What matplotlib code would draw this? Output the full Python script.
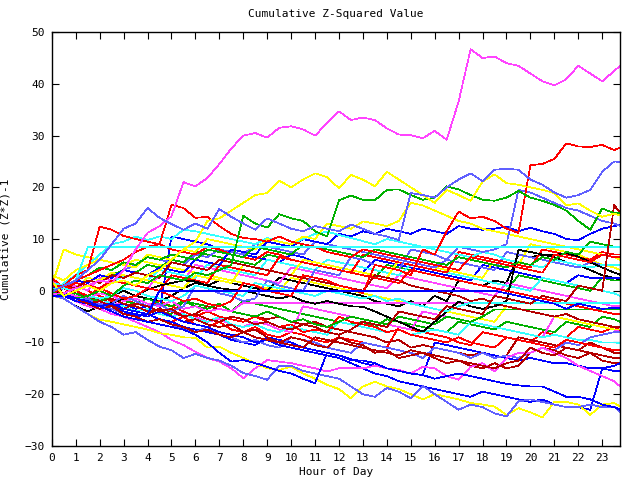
import numpy as np
import matplotlib

matplotlib.use("Agg")
import matplotlib.pyplot as plt

plt.rcParams["font.family"] = ["DejaVu Sans Mono"]

# readings every half hour, last one at 23:45
hours = np.append(np.arange(0, 24, 0.5), 23.75)

# --- series (cumulative z*z - 1) ---------------------------------------------
m1 = [-0.6, -0.5, 0.5, 1, 2, 1.5, 4, 8,
      11.2, 12.5, 14.4, 21, 20.2, 21.8, 24.5, 27.5,
      30, 30.5, 29.6, 31.5, 31.8, 31.2, 30, 32.4,
      34.7, 33, 33.5, 33, 31.4, 30.2, 30.1, 29.5,
      30.9, 29.2, 36.6, 46.7, 45, 45.3, 44, 43.5,
      42, 40.5, 39.7, 40.9, 43.5, 42, 40.5, 42.5,
      43.5]
r1 = [0.8, 1, 0, -1, 0.5, -0.5, -1.5, -1,
      0.5, 0, -1, -2, -1.5, -2.5, -3, -2,
      1.5, 1, 0, -0.5, -1, 3, 2.5, 2,
      1, 0.5, -0.5, 5, 4.5, 4, 3, 8,
      7, 11.5, 15.3, 14, 14.3, 13.5, 12, 11.2,
      24.3, 24.5, 25.5, 28.5, 27.9, 27.8, 28.2, 27.2,
      27.7]
p1 = [-0.2, 1, 2, 4, 6, 9, 12, 13,
      16, 14.1, 12.9, 11.8, 13, 12, 15.8, 14.3,
      13, 11.8, 14, 13, 12, 11.5, 12.5, 12,
      11.5, 12.8, 12, 11, 10.5, 9.8, 18.9, 18.5,
      18, 20, 21.5, 22.7, 21.2, 23.4, 23.6, 23.4,
      21.5, 20.5, 19, 18, 18.5, 19.5, 23, 25,
      24.9]
p2 = [-0.6, -1, -2, -1.5, -3, -2.5, -1, -2,
      -3, -2.5, -4, -3, 1, 0.5, -0.5, -1,
      -2, -1.5, 2, 1, 0.5, 0, 4, 3.5,
      3, 6.5, 6, 5, 4.5, 4, 8, 7.5,
      7, 6, 8.5, 8, 7.5, 8, 9, 19.5,
      19, 18, 17, 16, 15.5, 14.5, 13.5, 13,
      12.5]
y1 = [1.8, -1, 0, 1, 0, 1.5, 2, 1,
      3, 4, 6, 8, 9.5, 13.5, 14, 15.5,
      17, 18.5, 18.9, 21.3, 20, 21.5, 22.7, 22,
      19.8, 22.4, 21.5, 20.2, 23, 21.5, 20, 18.5,
      17, 19.5, 18.5, 17.4, 21.1, 22.5, 20.8, 20.5,
      20, 19.5, 18.9, 16.5, 16.9, 15.5, 14.3, 14.9,
      14.6]
g1 = [-0.3, -1, -1.5, -1, 0, -1, 1, 2,
      1.5, 3, 2.5, 2, 3.5, 3, 4, 5,
      14.5, 13, 12.2, 14.8, 14, 13.5, 11.5, 10.5,
      17.5, 18.4, 17.6, 17.5, 19.5, 19.6, 18.5, 17.6,
      18, 20.2, 19.6, 18.5, 17.6, 17.4, 18, 19.3,
      18, 17.4, 16.6, 15.5, 13.5, 11.8, 15.9, 15,
      15]
p3 = [-0.9, -1.5, -3, -4.5, -6, -7, -8.5, -8,
      -9.5, -10.8, -11.5, -13, -12.2, -13, -13.5, -14.5,
      -15.9, -16.5, -17.2, -14.5, -14.5, -15.5, -16, -16.5,
      -17, -18.5, -20, -20.5, -18.8, -19.5, -20.8, -18.4,
      -20, -21.5, -23, -22, -22.5, -23.7, -24.3, -21.4,
      -21, -21.5, -22, -22.5, -22.5, -22, -22.5, -22.4,
      -23.5]
y3 = [-1, -1.5, -3, -4.5, -5.6, -6, -6.5, -7,
      -7.5, -8.2, -8.5, -9, -9.1, -11, -10.8, -12,
      -13, -14, -15, -15.3, -14.7, -16, -17, -18.2,
      -19, -20.8, -18.5, -17.6, -18.5, -19, -20, -21,
      -20, -20.5, -21, -21.7, -22, -22.4, -24, -22.7,
      -23.5, -24.5, -21.5, -21.5, -22, -24, -22, -21.7,
      -22.4]
m2 = [-0.9, -1, -2, -3, -3.5, -4.5, -5, -6,
      -7, -8, -9.5, -10.5, -11.8, -13, -13.7, -15,
      -16.9, -15, -13.4, -13.7, -14, -14.5, -15, -15.6,
      -15, -15, -15, -14.5, -15, -15.3, -16, -14.7,
      -15, -16.5, -17.2, -14.7, -14, -15.6, -13, -12,
      -12, -11, -12, -13, -14.5, -15.5, -16.5, -17.5,
      -18.5]
b1 = [-0.7, -1, -2, -2.5, -3, -4, -5, -5.5,
      -6, -6.5, -7, -7.5, -8.5, -10, -12, -13.7,
      -13.4, -14, -14.7, -15.5, -16, -17, -17.9, -12,
      -12.5, -13.4, -13.5, -14, -15, -15.5, -16, -16.3,
      -17, -16.5, -16, -16.5, -17, -17.5, -18, -18.3,
      -18.5, -18.5, -19.5, -20.5, -20.5, -21, -22, -22.5,
      -23]
b2 = [-1, -0.5, -1.5, -2.5, -2, -3, -4, -4.5,
      -5, -4, -5, -6, -6.5, -7, -8, -8.5,
      -9, -10, -9.5, -10.5, -11, -11.5, -12, -12.5,
      -13, -14, -15, -16, -16.5, -17.5, -18, -18.5,
      -19, -19.5, -20, -20.5, -19.5, -20, -20.5, -21,
      -21.5, -21, -22, -22.5, -22.5, -23, -15, -14.5,
      -14]
b3 = [-0.9, -1, -1.5, -2, -3, -3.5, -4, -5,
      -4.5, -5.5, -6, -7, -7.5, -8, -8.5, -9.5,
      -10, -10.5, -9, -9.5, -10, -11, -11.5, -12,
      -12.5, -13.2, -14, -14.5, -15, -15.5, -16, -16.3,
      -10, -10.5, -11, -11.5, -12, -12.5, -13, -13.5,
      -13, -13.5, -14, -14, -14.5, -15, -15, -15.5,
      -15.6]
b4 = [0.6, 1, 2, 1.5, 3, 2.5, 4, 3.5,
      3, 4.5, 4, 3.5, 6, 5.5, 5, 8,
      7.5, 7, 9.5, 9, 8.5, 10, 9.5, 9,
      11, 10.5, 11.5, 11, 12, 11.5, 11, 12,
      11.5, 11, 12.5, 12, 11.8, 12, 12.4, 11.5,
      12.2, 11.5, 11, 10, 9.8, 11, 12, 12.5,
      12.7]
b5 = [-0.6, -1, -0.5, -1.5, -2, -3, -2.5, -3.5,
      -3, -4, 10.5, 10, 9.5, 9, 8, 7.5,
      7, 6.5, 6, 5.5, 7, 6.5, 5.5, 5,
      4.5, 4, 3.5, 6, 5.5, 5, 4.5, 4,
      3.5, 3, 2.5, 2, 5, 4.5, 4, 3.5,
      3, 2.5, 2, 1.5, 3, 2.5, 2.5, 2.5,
      2.5]
b_flat = [-1, -1, -1.5, -2, -3, -2.5, -3.5, -4,
          -4.5, 0, 0, 0, 0, 0, 0, 0,
          0, 0, 0, 0, 0, 0, 0, 0,
          0, 0, 0, 0, 0, 0, 0, 0,
          0, 0, 0, 0, 0, 0, -0.5, -1,
          -1.5, -2, -2.5, -3.5, -2.5, -3, -3.5, -3.3,
          -3.3]
c1 = [1.5, 1, 2, 8.4, 8.4, 8.4, 8.4, 8.4,
      8.4, 8.4, 8.4, 8.4, 8.4, 8.4, 8.4, 8.4,
      8.4, 8.4, 8.4, 8.4, 8.4, 8.4, 8.4, 8.4,
      8.4, 8.4, 8.4, 8.4, 8.4, 8.4, 8.4, 8.4,
      8.4, 8.4, 8.4, 8.4, 8.4, 8.4, 8.4, 8.4,
      8.4, 8.4, 8.4, 8.4, 8.4, 8.4, 8.4, 8.4,
      8.4]
c2 = [0.4, 0.5, 0, -1, -1.5, -1, 0.5, 0,
      -1, -1.5, -2, -1, 1, 0.5, 0, -0.5,
      -1, 1.5, 1, 0.5, 0, -0.5, -1, 0,
      -0.5, -1, -1.5, -1, -2, -1.5, -2.5, -3,
      -3.5, -4, -3, -2.3, -2.3, -2.3, -2.3, -2.3,
      -2.3, -2.3, -2.3, -2.3, -2.3, -2.3, -2.3, -2.3,
      -2.3]
c3 = [1, 1, 3, 5, 7, 9, 9.5, 10.5,
      9.8, 10.5, 10, 11.8, 11.5, 11, 10.5, 10,
      9.5, 9, 10.2, 9.5, 9, 10, 11, 11.4,
      10.8, 10.2, 9.6, 9, 10, 9.5, 9, 8.5,
      8, 7.5, 7, 6.5, 7.5, 7, 6, 5.5,
      5, 4.5, 6, 5.5, 5, 4.5, 5, 5,
      5]
c4 = [0.5, -0.5, -1, -2, -1.5, -2.5, -3, -4,
      -3.5, -4.5, -5, -4.5, -5.5, -6, -5, -6.5,
      -7, -6.5, -7.5, -8, -7, -7.5, -8, -8.5,
      -6, -6.5, -7, -7.5, -8, -7.5, -8.5, -8,
      -7.5, -8, -8.5, -6, -6.5, -7, -7.5, -8,
      -8.5, -9, -8.5, -9, -9.5, -9.5, -10, -10,
      -10.1]
c5 = [-0.9, 1.5, 3, 2.5, 2, 1.5, 3, 2.5,
      2, 4, 3.5, 3, 2.5, 5, 4.5, 4,
      3.5, 3, 6, 5.5, 5, 4.5, 4, 6,
      5.5, 5, 4.5, 4, 3.5, 3, 5, 4.5,
      4, 3.5, 3, 2.5, 2, 1.5, 1, 0.5,
      0, 2.5, 2, 1.5, 1, 0.5, 0, -0.5,
      -1]
m3 = [-0.8, -0.5, -1, -1.5, -0.5, -1, -2, -1.5,
      -2.5, -3, -2, -3.5, -3, -4, -3.5, -4,
      -2.3, -2.3, -2.3, -2.3, -2.3, -2.3, -2.3, -2.3,
      -2.3, -2.3, -2.3, -2.3, -2.3, -2.3, -2.3, -2.3,
      -2.3, -2.3, -2.3, -2.3, -2.3, -2.3, -2.3, -2.3,
      -2.3, -2.3, -2.3, -2.3, -2.3, -2.3, -2.3, -2.3,
      -2.3]
m4 = [-1, -1, -0.5, -1.5, -2.5, -2, -3, -4,
      -3.5, -4.5, -5, -4, -5, -6, -5.5, -6.5,
      -7, -6, -6.5, -7.5, -8, -3, -3.5, -4,
      -4.5, -5, -5.5, -6, -6.5, -7, -7.5, -4,
      -4.5, -5, -5.5, -6, -6.5, -7, -7.5, -8,
      -8.5, -9, -5, -5.5, -6, -6.5, -7, -7.5,
      -8]
m5 = [2, 0.5, 1, 0, 2.5, 2, 1.5, 1,
      0.5, 3, 2.5, 2, 5, 4.5, 4, 3.5,
      3, 2.5, 2, 1.5, 4.5, 4, 3.5, 3,
      2.5, 2, 1.5, 1, 0.5, 3, 2.5, 2,
      1.5, 1, 0.5, 0, -0.5, -1, 1.5, 1,
      0.5, 0, -0.5, -1, -1.5, -2, -2.5, -3,
      -3]
dr1 = [-1, -1, -1.5, -2.5, -2, -3, -3.5, -2.5,
       -3, -4, -3.5, -5, -4.5, -5.5, -6, -5,
       -5.5, -6.5, -6, -7, -7.5, -6.5, -7, -8,
       -8.5, -7.5, -6, -6.5, -7, -4, -4.5, -5,
       -5.5, -3, -3.5, -4, -4.5, -1, -1.5, -2,
       -2.5, -1, -1.5, -2, 1, 0.5, 0, 16.6,
       15]
dr2 = [-0.5, -1, -2, -1.5, -3, -2.5, -3.5, -4,
       -4.5, -3.5, -4, -5, -4.5, -3, -3.5, -4,
       -4.5, -5, -5.5, -5, -6, -6.5, -6, -7,
       -7.5, -8, -8.5, -9, -10, -9.5, -11, -10.5,
       -11, -11.5, -12, -12.5, -12, -13, -12.5, -9,
       -9.5, -10, -10.5, -11, -11.5, -10, -11, -12,
       -12]
dr3 = [0.8, 0.5, -0.5, -1, -2, -1.5, -2.5, -3,
       -4, -3.5, -5, -6, -5.5, -6.5, -7, -6.5,
       -8, -7.5, -9, -10, -9, -9.5, -10.5, -11,
       -9, -10, -10.5, -12, -11.5, -13, -12.5, -12,
       -13, -14, -13.5, -14.5, -15, -14, -15, -14.5,
       -12, -11, -11.5, -12.5, -13, -12, -13.5, -14,
       -14]
dr4 = [-1, 1, 0.5, 2, 1.5, 3, 2.5, 3.5,
       3, 2.5, 5.5, 5, 4.5, 4, 6, 5.5,
       5, 4.5, 4, 3.5, 3, 2.5, 2, 1.5,
       1, 0.5, 0, 3, 2.5, 2, 1, 0.5,
       0, -0.5, -1, -2, -1.5, -2.5, -3, -3.5,
       -4, -4.5, -5, -4.5, -5.5, -6, -6.5, -7,
       -7]
dr5 = [-0.8, -1, -1.5, -2.5, -3.5, -3, -4.5, -5,
       -6, -5.5, -6.5, -7, -8, -7.5, -8.5, -9,
       -8, -9, -9.5, -10, -10.5, -11, -9, -9.5,
       -10, -10.5, -11, -11.5, -12, -12.5, -11.5, -12,
       -12.5, -13, -13.5, -14, -14.5, -15, -14, -13.5,
       -11, -12, -12.5, -11, -11.5, -12, -12.5, -13,
       -13]
r2 = [-0.5, 1, 2, 3, 4, 5, 6, 7.5,
      8.5, 9, 16.6, 16, 14.1, 14.3, 12.5, 11,
      10.2, 10, 9.5, 10.5, 9.5, 9, 8.5, 7.5,
      7, 6.5, 8, 7.5, 7, 6.5, 6, 5.5,
      5, 4.5, 4, 6.5, 6, 5.5, 5, 4.5,
      4, 3.5, 7, 6.5, 6, 5.5, 7, 6.5,
      6.5]
r3 = [1.2, 1, 3, 4, 12.4, 11.8, 10.6, 10,
      9.5, 9, 8, 7.5, 7, 8.5, 8, 7,
      6.5, 6, 7.5, 7, 6, 5.5, 5, 4.5,
      4, 3.5, 3, 2.5, 2, 1.5, 4, 3.5,
      3, 2.5, 2, 1.5, 1, 0.5, 0, -0.5,
      -1, -1.5, -2, -2.5, -3, -3.5, -4, -4.5,
      -4.5]
r4 = [-1, -1, -2, -2.5, -3.5, -3, -4, -5,
      -4.5, -5.5, -6, -5, -6.5, -7, -6, -7.5,
      -8, -7, -8.5, -9, -8, -8.5, -9.5, -10,
      -9, -9.5, -10, -10.5, -11, -7, -7.5, -8,
      -8.5, -9, -10, -10.5, -8, -8.5, -9, -9.5,
      -10, -8, -8.5, -9, -7, -7.5, -8, -7,
      -7.6]
r5 = [2.5, 0.5, 1.5, 1, 0.5, 2, 1.5, 1,
      0.5, 0, 3, 2.5, 2, 1.5, 5, 4.5,
      4, 3.5, 3, 6.5, 6, 5.5, 5, 4.5,
      4, 3.5, 7, 6.5, 6, 5.5, 5, 4.5,
      4, 3.5, 7.5, 7, 6.5, 6, 5.5, 5,
      4.5, 8, 7.5, 7, 6.5, 6, 7.5, 7,
      7]
r6 = [0.3, -0.5, 1, 0, -1, -2, -1.5, -2.5,
      -3, -2, -3, -4, -5, -4, -5, -5.5,
      -6, -5, -6, -7, -6.5, -8, -7.5, -8,
      -5, -6, -6.5, -7, -8, -7.5, -8.5, -9,
      -9.5, -10, -9, -10, -10.5, -11, -9, -9.5,
      -10, -10.5, -11, -9.5, -10, -10.5, -11, -11.5,
      -11.5]
g2 = [-1, -1, -0.5, -1.5, -2, -1, -2, -2.5,
      -1.5, -2.5, -3, -2, -3, -3.5, -2.5, -4,
      -4.5, -5, -4, -5, -6, -5.5, -6.5, -7,
      -6, -5, -5.5, -6, -6.5, -5, -5.5, -6,
      -6.5, -5, -5.5, -6, -5, -3.6, -3.6, -3.6,
      -3.6, -3.6, -3.6, -3.6, -3.6, -3.6, -3.6, -3.6,
      -3.6]
g3 = [1.5, 1, 0.5, 2, 1.5, 3, 4, 3.5,
      5, 4.5, 6, 5.5, 7.5, 7, 6.5, 6,
      5.5, 5, 7, 6.5, 6, 5.5, 5, 4.5,
      4, 3.5, 3, 2.5, 5, 4.5, 4, 3.5,
      3, 2.5, 2, 1.5, 1, 0.5, 0, 3,
      2.5, 2, 1.5, 1, 0.5, 0, 2.5, 2,
      2]
g4 = [-0.8, -0.5, -1.5, -1, -2, -3, -2.5, -3.5,
      -3, -4, -4.5, -2, -2.5, -3, -3.5, -4,
      -2, -2.5, -3, -3.5, -4, -4.5, -5, -5.5,
      -6, -6.5, -6, -7, -5.5, -6, -6.5, -7,
      -7.5, -8, -6, -6.5, -7, -7.5, -6, -6.5,
      -7, -7.5, -8, -6, -6.5, -7, -5, -5.5,
      -6]
g5 = [0.2, 1, 2, 3, 4.5, 4, 5.5, 5,
      6.5, 6, 7, 6.5, 6, 8, 7.5, 7,
      6.5, 8.5, 8, 7.5, 7, 9, 8.5, 8,
      7.5, 7, 6.5, 8, 7.5, 7, 6.5, 6,
      5.5, 5, 6.5, 6, 5.5, 5, 4.5, 5.5,
      5, 6.5, 6, 7.5, 7, 9.5, 9, 8.5,
      8.5]
y2 = [3, 2, 4, 5, 6, 5.5, 5, 4.5,
      7, 6.5, 6, 8, 7.5, 10, 9.5, 9,
      8.5, 8, 10, 9.5, 9, 10.5, 10, 13,
      12.5, 12, 13.4, 13, 12.5, 13.5, 17, 16.5,
      15.5, 14.5, 13.5, 13, 12, 11.5, 11, 10.5,
      10, 9.5, 9, 8.5, 8, 7.5, 7, 6.5,
      6]
y4 = [1, 8, 7, 6.5, 6, 5.5, 5, 6,
      5.5, 5, 4.5, 4, 3.5, 3, 2.5, 2,
      1.5, 1, 0.5, 0, 2.5, 2, 1.5, 1,
      0.5, 0, -0.5, -1, -1.5, -2, -2.5, -3,
      -3.5, -4, -4.5, -5, -5.5, -6, -3, -3.5,
      -4, -4.5, -5, -5.5, -6, -6.5, -7, -7.5,
      -7.5]
y5 = [-1, 1, 0.5, 2.5, 2, 3.5, 3, 2.5,
      2, 1.5, 1, 0.5, 3, 2.5, 2, 1.5,
      5, 4.5, 4, 3.5, 3, 6, 5.5, 5,
      4.5, 4, 3.5, 3, 2.5, 6, 5.5, 5,
      4.5, 4, 3.5, 3, 2.5, 6, 5.5, 5,
      9, 8.5, 8, 7.5, 7, 6, 5, 4.5,
      4]
k1 = [-0.9, -1.5, -3, -4, -3, -2.4, -1.5, -1,
      0.2, 1, 1.5, 2, 1.8, 1, 0.5, 0.2,
      0, -0.5, -1, -1.5, -1, -2, -2.5, -2,
      -2.5, -3, -3.1, -4, -5, -6, -7, -7.9,
      -6, -4, -2.1, -3, -3.5, -3, -2, 7.9,
      7.5, 7, 6.9, 7.3, 6.6, 5.5, 4.5, 3.5,
      3.1]
k2 = [-0.7, 0.5, -0.5, -1, -2, -1, 0, -1,
      -1.5, -2, -1, 0.5, 1.5, 1, 2, 1.5,
      1, 0.5, 0, 2.5, 2, 1.5, 1, 0.5,
      0, -0.5, -1, -2, -2.5, -3, -2, -3,
      -1, -2, 2, 1.5, 1, 2, 1.5, 7,
      6.5, 7, 6.5, 5.5, 5, 4, 3, 2.5,
      2]
p4 = [-1, -1, -2, -3, -2.5, -3.5, -4.5, -5,
      -6, -5.5, -6.5, -7.5, -8, -7, -8.5, -9,
      -10, -9.5, -10.5, -11, -9, -9.5, -10, -11,
      -11.5, -12, -10, -10.5, -11, -11.5, -12, -13,
      -11, -11.5, -12, -13, -12, -13, -12.5, -13,
      -12, -11, -11.5, -10, -10.5, -9, -8.5, -8,
      -8]
p5 = [-0.4, 0.5, 2, 1.5, 3, 2.5, 4, 5,
      6.5, 6, 5.5, 5, 7, 6.5, 8, 7.5,
      7, 9, 8.5, 8, 7.5, 7, 9.5, 9,
      8.5, 8, 7.5, 7, 6.5, 6, 5.5, 5,
      4.5, 6, 5.5, 5, 4.5, 4, 7.5, 7,
      6.5, 6, 5.5, 5, 4.5, 5.5, 5, 5,
      5]

RED = "#ff0000"
GREEN = "#00b000"
BLUE = "#0000ff"
MAGENTA = "#ff44ff"
CYAN = "#33ffff"
DARKRED = "#b40000"
YELLOW = "#ffff00"
BLACK = "#000000"
PERIWINKLE = "#6060ff"

series = [
    (r4, RED), (g4, GREEN), (b3, BLUE), (m4, MAGENTA), (c4, CYAN),
    (dr2, DARKRED), (y4, YELLOW), (k2, BLACK), (p4, PERIWINKLE),
    (r6, RED), (g3, GREEN), (b5, BLUE), (m5, MAGENTA), (c5, CYAN),
    (dr3, DARKRED), (y5, YELLOW), (p5, PERIWINKLE),
    (r5, RED), (g2, GREEN), (b4, BLUE), (m3, MAGENTA), (c3, CYAN),
    (dr4, DARKRED), (y2, YELLOW), (k1, BLACK), (p2, PERIWINKLE),
    (r3, RED), (g5, GREEN), (b2, BLUE), (m2, MAGENTA), (c2, CYAN),
    (dr5, DARKRED), (y3, YELLOW), (p3, PERIWINKLE),
    (r2, RED), (b1, BLUE), (c1, CYAN), (dr1, DARKRED),
    (r1, RED), (g1, GREEN), (b_flat, BLUE), (m1, MAGENTA),
    (y1, YELLOW), (p1, PERIWINKLE),
]

fig, ax = plt.subplots(figsize=(6.4, 4.8), dpi=100)
fig.subplots_adjust(left=0.081, right=0.969, bottom=0.071, top=0.933)

# gnuplot-style crisp 1px lines
for vals, col in series:
    ax.plot(hours, vals, color=col, lw=0.5, antialiased=False)

ax.set_xlim(0, 23.75)
ax.set_ylim(-30, 50)
ax.set_xticks(range(24))
ax.set_yticks(range(-30, 51, 10))
ax.tick_params(direction="in", top=True, right=True, length=5, width=0.8,
               labelsize=8, pad=5)
for s in ax.spines.values():
    s.set_linewidth(1.0)

ax.set_title("Cumulative Z-Squared Value", fontsize=8, pad=11)
ax.set_xlabel("Hour of Day", fontsize=8, labelpad=3)
ax.set_ylabel("Cumulative (Z*Z)-1", fontsize=8, labelpad=10)

fig.savefig("out.png", dpi=100)
